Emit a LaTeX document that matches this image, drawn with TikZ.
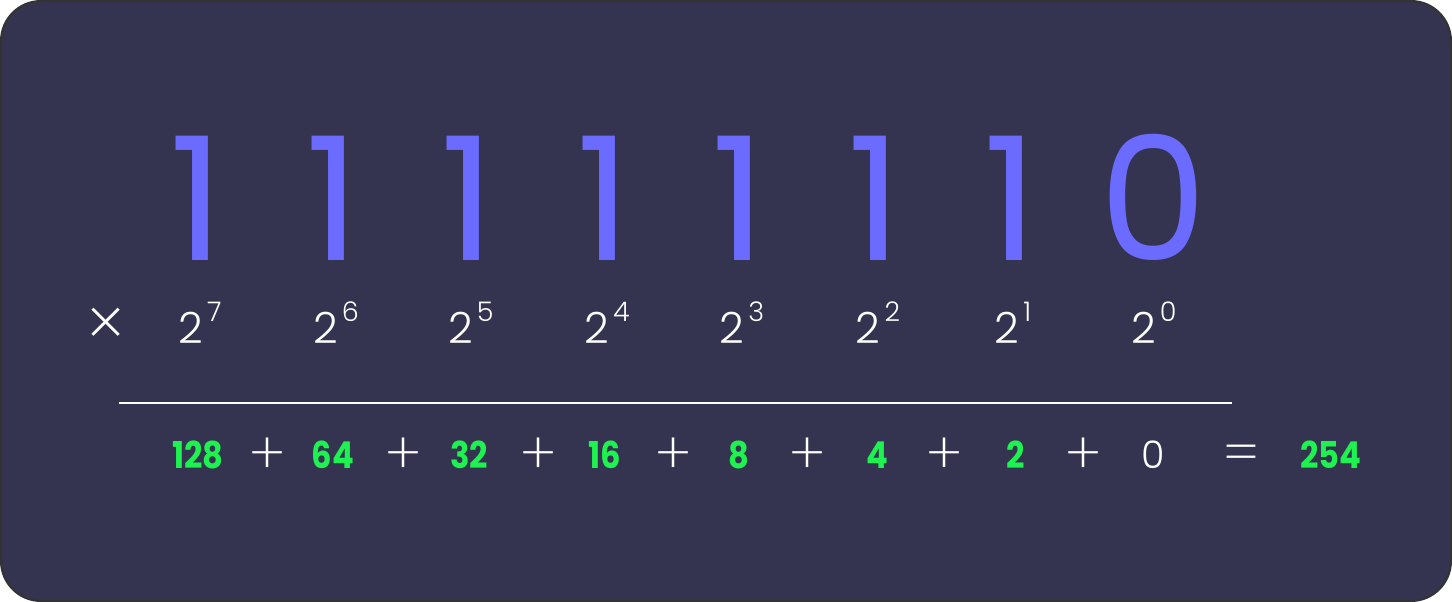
\documentclass[tikz,border=0pt]{standalone}
\usepackage{fontspec}
\setmainfont{Poppins}
\newfontfamily\poplight{Poppins Light}
\newfontfamily\popthin{Poppins ExtraLight}
\newfontfamily\popsum{Poppins}[FakeStretch=0.87]
\usetikzlibrary{positioning}
\definecolor{panel}{RGB}{52,52,80}
\definecolor{bitblue}{RGB}{107,108,255}
\definecolor{sumgreen}{RGB}{30,242,80}
\newcommand{\pw}[1]{2\kern4pt\raisebox{22pt}{\fontsize{27}{27}\selectfont #1}}

\begin{document}
\begin{tikzpicture}[x=1pt,y=-1pt,
  bit/.style={anchor=base,text=bitblue,font=\fontsize{172}{172}\selectfont,inner sep=0pt},
  power/.style={anchor=base,text=white,font=\poplight\fontsize{43}{43}\selectfont,inner sep=0pt},
  value/.style={anchor=base,text=sumgreen,font=\popsum\bfseries\fontsize{37}{37}\selectfont,inner sep=0pt},
  op/.style={anchor=center,text=white,font=\popthin\fontsize{58}{58}\selectfont,inner sep=0pt}]
\fill[white] (0,0) rectangle (1452,602);
\draw[draw=black!80,line width=2pt,fill=panel,rounded corners=40pt] (1,1) rectangle (1451,601);

% binary digits
\foreach \b/\x [count=\i] in {1/197,1/333,1/468,1/604,1/739,1/875,1/1011,0/1153}
  \node[bit] (bit\i) at (\x,260) {\b};

% powers of two
\node[op,font=\popthin\fontsize{70}{70}\selectfont] (times) at (106,328) {×};
\foreach \e/\x in {7/200,6/336,5/471,4/607,3/742,2/878,1/1013,0/1154}
  \node[power] (pow\e) at (\x,343) {\pw{\e}};

\coordinate (rulel) at (119,403);
\coordinate (ruler) at (1232,403);
\draw[white,line width=2pt] (rulel) -- (ruler);

% sum
\foreach \v/\x [count=\i] in {128/198,64/333,32/469,16/605,8/739,4/877,2/1016}
  \node[value] (val\i) at (\x,468) {\v};
\node[power,font=\poplight\fontsize{38}{38}\selectfont] (val8) at (1153,468) {0};
\foreach \x [count=\i] in {268,404,539,674,808,945,1084}
  \node[op] (plus\i) at (\x,456) {+};
\node[op] (eq) at (1241,459) {=};
\node[value] (total) at (1331,468) {254};
\end{tikzpicture}
\end{document}
